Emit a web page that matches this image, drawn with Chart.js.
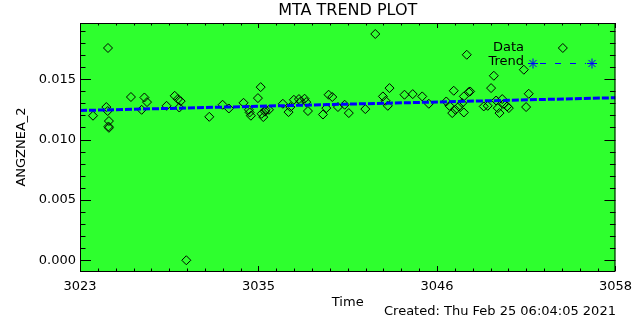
<!DOCTYPE html>
<html>
<head>
<meta charset="utf-8">
<script src="https://cdn.jsdelivr.net/npm/chart.js@4.4.1/dist/chart.umd.min.js"></script>
<style>
  html, body { margin: 0; padding: 0; background: #fff; }
  #trendChart { display: block; }
</style>
</head>
<body>
<canvas id="trendChart" width="640" height="320"></canvas>
<script>
// 0. データ
let timeData = [3023.85, 3024.72, 3024.81, 3024.83, 3024.89, 3024.86, 3024.89, 3026.33, 3027.03, 3027.21,
  3027.38, 3028.66, 3029.19, 3029.40, 3029.58, 3029.49, 3029.95, 3031.45, 3032.32, 3032.73,
  3033.69, 3034.04, 3034.09, 3034.17, 3034.63, 3034.81, 3034.87, 3034.98, 3035.13, 3035.35,
  3035.09, 3036.26, 3036.63, 3036.75, 3036.98, 3037.31, 3037.42, 3037.68, 3037.79, 3037.90,
  3038.88, 3039.10, 3039.25, 3039.49, 3039.86, 3040.30, 3040.57, 3041.65, 3042.30, 3042.80,
  3042.97, 3043.12, 3043.23, 3044.21, 3044.75, 3045.37, 3045.80, 3046.94, 3047.15, 3047.33,
  3047.43, 3047.54, 3047.76, 3047.98, 3048.09, 3048.09, 3048.28, 3048.41, 3048.50, 3049.39,
  3049.65, 3049.87, 3050.05, 3050.20, 3050.31, 3050.42, 3050.60, 3050.70, 3050.92, 3051.03,
  3052.01, 3052.16, 3052.33, 3054.56];
let angData = [0.01197, 0.01269, 0.01236, 0.01758, 0.01153, 0.01108, 0.01097, 0.01352, 0.01246, 0.01348,
  0.01310, 0.01279, 0.01362, 0.01335, 0.01318, 0.01265, 0.00000, 0.01188, 0.01288, 0.01257,
  0.01304, 0.01246, 0.01224, 0.01197, 0.01343, 0.01434, 0.01213, 0.01186, 0.01246, 0.01246,
  0.01230, 0.01296, 0.01227, 0.01269, 0.01329, 0.01335, 0.01315, 0.01338, 0.01310, 0.01236,
  0.01207, 0.01260, 0.01371, 0.01352, 0.01269, 0.01288, 0.01219, 0.01252, 0.01874, 0.01357,
  0.01321, 0.01279, 0.01426, 0.01371, 0.01376, 0.01357, 0.01296, 0.01315, 0.01279, 0.01219,
  0.01404, 0.01246, 0.01274, 0.01302, 0.01224, 0.01357, 0.01702, 0.01393, 0.01398, 0.01274,
  0.01279, 0.01426, 0.01528, 0.01323, 0.01260, 0.01219, 0.01335, 0.01296, 0.01274, 0.01260,
  0.01578, 0.01269, 0.01379, 0.01758];
// トレンド線の両端
let trendTime = [3023, 3058];
let trendVal = [0.01240, 0.01346];
// 目盛り
let xTickVals = [3023, 3034.667, 3046.333, 3058];
let xTickLabels = ['3023', '3035', '3046', '3058'];
let yTickVals = [0, 0.005, 0.010, 0.015];
let xMin = 3023;
let xMax = 3058;
let yMin = -0.00089;
let yMax = 0.01965;

let plotGreen = '#2eff2e';
let trendBlue = '#0000ff';

// 1. 点データを作る
let dataPoints = new Array();
for(let i = 0; i < timeData.length; i++){
  dataPoints.push({x: timeData[i], y: angData[i]});
}
let trendPoints = new Array();
for(let i = 0; i < trendTime.length; i++){
  trendPoints.push({x: trendTime[i], y: trendVal[i]});
}

// 2. IDL風の枠・内向きの目盛り・凡例・文字を描くプラグイン
let idlFrame = {
  id: 'idlFrame',
  beforeDatasetsDraw(chart) {
    let ctx = chart.ctx;
    let a = chart.chartArea;
    ctx.save();
    ctx.fillStyle = plotGreen;
    ctx.fillRect(a.left, a.top, a.right - a.left, a.bottom - a.top);
    ctx.restore();
  },
  afterDraw(chart) {
    let ctx = chart.ctx;
    let a = chart.chartArea;
    let xs = chart.scales.x;
    let ys = chart.scales.y;
    ctx.save();
    ctx.strokeStyle = '#000';
    ctx.lineWidth = 1;
    ctx.strokeRect(a.left + 0.5, a.top + 0.5, a.right - a.left - 1, a.bottom - a.top);

    ctx.beginPath();
    // x軸の目盛り(上下、主目盛りの間に10分割)
    for(let i = 0; i < xTickVals.length; i++){
      let px = Math.round(xs.getPixelForValue(xTickVals[i])) + 0.5;
      ctx.moveTo(px, a.bottom); ctx.lineTo(px, a.bottom - 5);
      ctx.moveTo(px, a.top); ctx.lineTo(px, a.top + 5);
      if(i == xTickVals.length - 1){continue;}
      for(let k = 1; k < 10; k++){
        let v = xTickVals[i] + (xTickVals[i + 1] - xTickVals[i]) * k / 10;
        let mx = Math.round(xs.getPixelForValue(v)) + 0.5;
        ctx.moveTo(mx, a.bottom); ctx.lineTo(mx, a.bottom - 2.5);
        ctx.moveTo(mx, a.top); ctx.lineTo(mx, a.top + 2.5);
      }
    }
    // y軸の目盛り(左右、0.001ごと)
    for(let k = 0; k * 0.001 <= yMax; k++){
      let py = Math.round(ys.getPixelForValue(k * 0.001)) + 0.5;
      let len = (k % 5 == 0) ? 11 : 5.5;
      ctx.moveTo(a.left, py); ctx.lineTo(a.left + len, py);
      ctx.moveTo(a.right, py); ctx.lineTo(a.right - len, py);
    }
    ctx.stroke();

    // タイトルと作成日時
    ctx.fillStyle = '#000';
    ctx.font = '16px "DejaVu Sans"';
    ctx.textAlign = 'center';
    ctx.textBaseline = 'middle';
    ctx.fillText('MTA TREND PLOT', (a.left + a.right) / 2, 11);
    ctx.font = '13px "DejaVu Sans"';
    ctx.textAlign = 'left';
    ctx.fillText('Created: Thu Feb 25 06:04:05 2021', 384, 312, 241);

    // 凡例
    ctx.textAlign = 'right';
    ctx.fillText('Data', 524, 48);
    ctx.fillText('Trend', 524, 62);
    ctx.strokeStyle = trendBlue;
    ctx.setLineDash([6, 9]);
    ctx.beginPath();
    ctx.moveTo(540, 63.5); ctx.lineTo(586, 63.5);
    ctx.stroke();
    ctx.setLineDash([]);
    let star = {pointStyle: 'star', radius: 5, rotation: 0, borderWidth: 1};
    ctx.fillStyle = trendBlue;
    Chart.helpers.drawPoint(ctx, star, 533, 63.5);
    Chart.helpers.drawPoint(ctx, star, 592, 63.5);
    ctx.restore();
  }
};

// 3. グラフの作成
Chart.defaults.font.family = '"DejaVu Sans"';
Chart.defaults.color = '#000';

let ctx = document.getElementById('trendChart');
let TrendChart = new Chart(ctx, {
  data: {
    datasets: [{
      type: 'line',
      label: 'Trend',
      data: trendPoints,
      borderColor: trendBlue,
      borderWidth: 3,
      borderDash: [7, 2],
      pointRadius: 0,
      fill: false
    }, {
      type: 'scatter',
      label: 'Data',
      data: dataPoints,
      pointStyle: 'rectRot',
      pointRadius: 4.5,
      borderColor: '#000',
      borderWidth: 1,
      backgroundColor: 'rgba(0,0,0,0)'
    }]
  },
  options: {
    responsive: false,
    animation: false,
    layout: {padding: {top: 23, right: 24, left: 0, bottom: 0}},
    plugins: {legend: {display: false}, tooltip: {enabled: false}, title: {display: false}},
    scales: {
      x: {
        type: 'linear',
        min: xMin,
        max: xMax,
        afterBuildTicks: function(s){ s.ticks = xTickVals.map(v => ({value: v})); },
        afterFit: function(s){ s.height = 49; },
        grid: {display: false, drawTicks: false},
        border: {display: false},
        ticks: {
          autoSkip: false,
          maxRotation: 0,
          padding: 8,
          font: {size: 13},
          callback: function(v, i){ return xTickLabels[i]; }
        },
        title: {display: true, text: 'Time', font: {size: 13}, padding: {top: 0, bottom: 10}}
      },
      y: {
        type: 'linear',
        min: yMin,
        max: yMax,
        afterBuildTicks: function(s){ s.ticks = yTickVals.map(v => ({value: v})); },
        afterFit: function(s){ s.width = 80; },
        grid: {display: false, drawTicks: false},
        border: {display: false},
        ticks: {
          padding: 4,
          font: {size: 13},
          callback: function(v){ return Number(v).toFixed(3); }
        },
        title: {display: true, text: 'ANGZNEA_2', font: {size: 13}, padding: {top: 14, bottom: 0}}
      }
    }
  },
  plugins: [idlFrame]
});
</script>
</body>
</html>
